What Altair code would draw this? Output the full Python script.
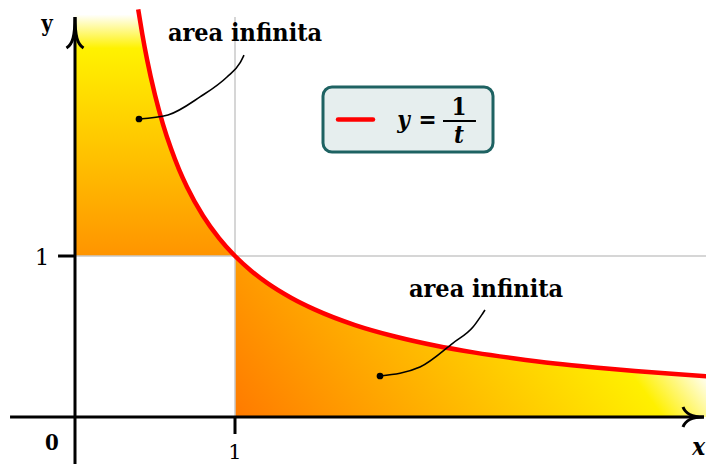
import altair as alt
import pandas as pd

# ---- data ----
# curve y = 1/t
curve_t = [0.395, 0.42, 0.45, 0.5, 0.55, 0.6, 0.65, 0.7, 0.8, 0.9, 1.0, 1.1, 1.2, 1.35,
           1.5, 1.75, 2.0, 2.25, 2.5, 2.75, 3.0, 3.25, 3.5, 3.75, 4.0]
curve_y = [2.532, 2.381, 2.222, 2.0, 1.818, 1.667, 1.538, 1.429, 1.25, 1.111, 1.0, 0.909,
           0.833, 0.741, 0.667, 0.571, 0.5, 0.444, 0.4, 0.364, 0.333, 0.308, 0.286, 0.267, 0.25]

# upper infinite area (0 < t < 1, above y = 1)
upper_t = [0.0, 0.4, 0.45, 0.5, 0.55, 0.6, 0.65, 0.7, 0.8, 0.9, 1.0]
upper_y = [2.5, 2.5, 2.222, 2.0, 1.818, 1.667, 1.538, 1.429, 1.25, 1.111, 1.0]

# lower infinite area (t > 1, below the curve)
lower_t = [1.0, 1.1, 1.2, 1.35, 1.5, 1.75, 2.0, 2.25, 2.5, 2.75, 3.0, 3.25, 3.5, 3.75, 4.0]
lower_y = [1.0, 0.909, 0.833, 0.741, 0.667, 0.571, 0.5, 0.444, 0.4, 0.364, 0.333, 0.308,
           0.286, 0.267, 0.25]

# annotation leader curves
lead1_t = [0.4, 0.58125, 0.78125, 0.95, 1.03125, 1.05625]
lead1_y = [1.851, 1.876, 1.988, 2.112, 2.199, 2.248]
lead2_t = [1.90625, 2.15625, 2.3625, 2.4875, 2.55, 2.5625]
lead2_y = [0.2547, 0.3106, 0.4596, 0.559, 0.646, 0.6646]

label_text = ["area infinita", "area infinita"]
label_t = [1.0625, 2.569]
label_y = [2.335, 0.745]

X_MIN, X_MAX = -0.41875, 3.94375
Y_MIN, Y_MAX = -0.2919, 2.5404

xs = alt.Scale(domain=[X_MIN, X_MAX], nice=False, zero=False)
ys = alt.Scale(domain=[Y_MIN, Y_MAX], nice=False, zero=False)


def X(f):
    return alt.X(f, type="quantitative", scale=xs, axis=None)


def Y(f):
    return alt.Y(f, type="quantitative", scale=ys, axis=None)


SERIF = "DejaVu Serif"
SERIF_C = "DejaVu Serif Condensed, DejaVu Serif"

upper_df = pd.DataFrame({"t": upper_t, "y": upper_y, "b": [1.0] * len(upper_t)})
lower_df = pd.DataFrame({"t": lower_t, "y": lower_y, "b": [0.0] * len(lower_t)})
curve_df = pd.DataFrame({"t": curve_t, "y": curve_y})

grad_up = alt.Gradient(
    gradient="linear",
    stops=[alt.GradientStop(color="#ffffff", offset=0),
           alt.GradientStop(color="#fff200", offset=0.14),
           alt.GradientStop(color="#ff9400", offset=1)],
    x1=0, x2=0, y1=0, y2=1,
)
grad_low = alt.Gradient(
    gradient="linear",
    stops=[alt.GradientStop(color="#ff7a00", offset=0),
           alt.GradientStop(color="#fff000", offset=0.84),
           alt.GradientStop(color="#ffffff", offset=0.99)],
    x1=0, x2=1, y1=1, y2=0.75,
)

upper = alt.Chart(upper_df).mark_area(color=grad_up, interpolate="monotone", clip=True).encode(
    x=X("t"), y=Y("y"), y2="b")
lower = alt.Chart(lower_df).mark_area(color=grad_low, interpolate="monotone", clip=True).encode(
    x=X("t"), y=Y("y"), y2="b")

grid_df = pd.DataFrame({"x": [1.0, 0.0], "x2": [1.0, X_MAX], "y": [0.0, 1.0], "y2": [2.484, 1.0]})
grid = alt.Chart(grid_df).mark_rule(color="#c8c8c8", strokeWidth=1.5).encode(
    x=X("x"), x2="x2", y=Y("y"), y2="y2")

curve = alt.Chart(curve_df).mark_line(color="#ff0000", strokeWidth=4.5, interpolate="monotone",
                                      clip=True).encode(x=X("t"), y=Y("y"))

axes_df = pd.DataFrame({
    "x": [-0.406, 0.0, -0.106, 1.0],
    "x2": [3.93125, 0.0, 0.0, 1.0],
    "y": [0.0, Y_MIN, 1.0, 0.0],
    "y2": [0.0, 2.484, 1.0, -0.1056],
})
axes = alt.Chart(axes_df).mark_rule(color="#000000", strokeWidth=3, strokeCap="butt").encode(
    x=X("x"), x2="x2", y=Y("y"), y2="y2")

arrow_up = "M-0.55,1 C-0.15,0.75 0,0.2 0,-1 C0,0.2 0.15,0.75 0.55,1"
arrow_right = "M-1,-0.95 C-0.75,-0.3 -0.2,0 1,0 C-0.2,0 -0.75,0.3 -1,0.95"
ay = alt.Chart(pd.DataFrame({"t": [0.0], "y": [2.388]})).mark_point(
    shape=arrow_up, size=961, filled=False, stroke="#000000", strokeWidth=3, opacity=1).encode(
    x=X("t"), y=Y("y"))
ax = alt.Chart(pd.DataFrame({"t": [3.8656], "y": [0.0]})).mark_point(
    shape=arrow_right, size=441, filled=False, stroke="#000000", strokeWidth=3, opacity=1).encode(
    x=X("t"), y=Y("y"))

lead1 = alt.Chart(pd.DataFrame({"t": lead1_t, "y": lead1_y})).mark_line(
    color="#000000", strokeWidth=1.6, interpolate="monotone").encode(x=X("t"), y=Y("y"))
lead2 = alt.Chart(pd.DataFrame({"t": lead2_t, "y": lead2_y})).mark_line(
    color="#000000", strokeWidth=1.6, interpolate="monotone").encode(x=X("t"), y=Y("y"))
dots = alt.Chart(pd.DataFrame({"t": [lead1_t[0], lead2_t[0]], "y": [lead1_y[0], lead2_y[0]]})).mark_circle(
    color="#000000", size=45, opacity=1).encode(x=X("t"), y=Y("y"))

labels = alt.Chart(pd.DataFrame({"t": label_t, "y": label_y, "s": label_text})).mark_text(
    font=SERIF_C, fontSize=25, fontWeight="bold", align="center", baseline="alphabetic",
    color="#000000").encode(x=X("t"), y=Y("y"), text="s")


def txt(s, t, y, size=22, weight="normal", style="normal", align="center", font=SERIF):
    return alt.Chart(pd.DataFrame({"t": [t], "y": [y], "s": [s]})).mark_text(
        font=font, fontSize=size, fontWeight=weight, fontStyle=style, align=align,
        baseline="alphabetic", color="#000000").encode(x=X("t"), y=Y("y"), text="s")


axis_texts = [
    txt("y", -0.175, 2.398, 22, "bold", font=SERIF_C),
    txt("0", -0.144, -0.205, 22, "bold", font=SERIF_C),
    txt("1", 1.0, -0.261, 21),
    txt("1", -0.206, 0.944, 23),
    txt("x", 3.9375, -0.236, 24, "bold", "italic", "right", font=SERIF_C),
]

box = alt.Chart(pd.DataFrame({"x": [1.55], "x2": [2.6125], "y": [2.0497], "y2": [1.646]})).mark_rect(
    fill="#e6eeee", stroke="#1e6262", strokeWidth=3, cornerRadius=9).encode(
    x=X("x"), x2="x2", y=Y("y"), y2="y2")
leg_line = alt.Chart(pd.DataFrame({"x": [1.644], "x2": [1.8625], "y": [1.848]})).mark_rule(
    color="#ff0000", strokeWidth=4.5, strokeCap="round").encode(x=X("x"), x2="x2", y=Y("y"))
frac_bar = alt.Chart(pd.DataFrame({"x": [2.3], "x2": [2.506], "y": [1.8385]})).mark_rule(
    color="#000000", strokeWidth=2.2, strokeCap="butt").encode(x=X("x"), x2="x2", y=Y("y"))
legend_texts = [
    txt("y", 2.053, 1.795, 24, "bold", "italic", font=SERIF_C),
    txt("=", 2.203, 1.795, 24, "bold", font=SERIF_C),
    txt("1", 2.4, 1.876, 24, "bold", font=SERIF_C),
    txt("t", 2.4, 1.702, 24, "bold", "italic", font=SERIF_C),
]

chart = alt.layer(
    upper, lower, grid, curve, axes, ay, ax, lead1, lead2, dots, labels,
    *axis_texts, box, leg_line, frac_bar, *legend_texts,
).properties(
    width=698, height=456, padding=0, autosize=alt.AutoSizeParams(type="none"),
    background="#ffffff",
).configure_view(stroke=None)

chart.save("out.html", embed_options={"renderer": "svg", "actions": False})
